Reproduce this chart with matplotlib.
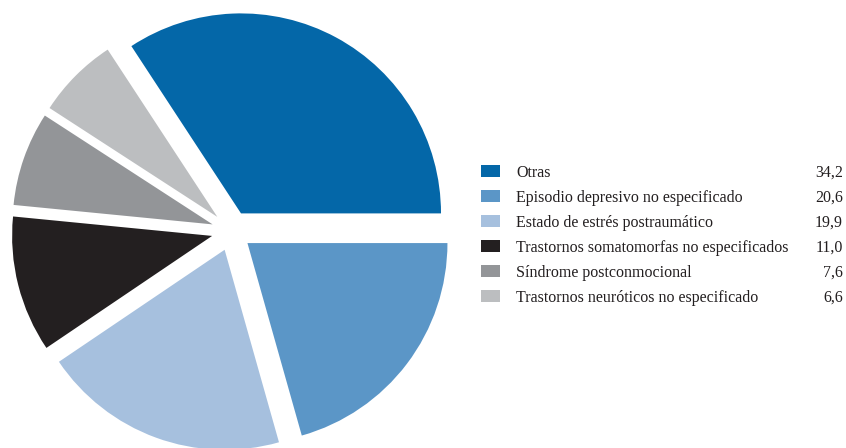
import matplotlib
matplotlib.use("Agg")
from matplotlib import pyplot as plt
from matplotlib.patches import Rectangle

labels = ["Otras",
          "Episodio depresivo no especificado",
          "Estado de estrés postraumático",
          "Trastornos somatomorfas no especificados",
          "Síndrome postconmocional",
          "Trastornos neuróticos no especificado"]
values = [34.2, 20.6, 19.9, 11.0, 7.6, 6.6]
colors = ["#0467a8", "#5b96c7", "#a6c0de", "#231f20", "#939598", "#bcbec0"]

plt.rcParams["font.family"] = ["Liberation Serif", "DejaVu Serif"]

fig = plt.figure(figsize=(8.46, 4.48), dpi=100)
ax = fig.add_axes([0, 0, 1, 1])

# clockwise from 3 o'clock, "Otras" closes the circle
# (explode is in data units, not a fraction of the radius)
order = list(range(1, len(values))) + [0]
ax.pie([values[i] for i in order],
       colors=[colors[i] for i in order],
       explode=[20] * len(values),
       startangle=0, counterclock=False,
       center=(231.5, 217), radius=200,
       wedgeprops=dict(linewidth=0))

ax.set_xlim(0, 846)
ax.set_ylim(0, 448)
ax.set_aspect("equal")
ax.axis("off")

# legend with values on the right
y0, step = 171, 25
for i, (lab, val, col) in enumerate(zip(labels, values, colors)):
    y = 448 - (y0 + i * step)
    ax.add_patch(Rectangle((481, y - 6), 19, 12, color=col, lw=0))
    ax.text(516, y, lab, fontsize=11.5, color="#231f20", va="center_baseline")
    ax.text(843, y, f"{val:.1f}".replace(".", ","), fontsize=11.5,
            color="#231f20", ha="right", va="center_baseline")

fig.savefig("out.png", dpi=100)
